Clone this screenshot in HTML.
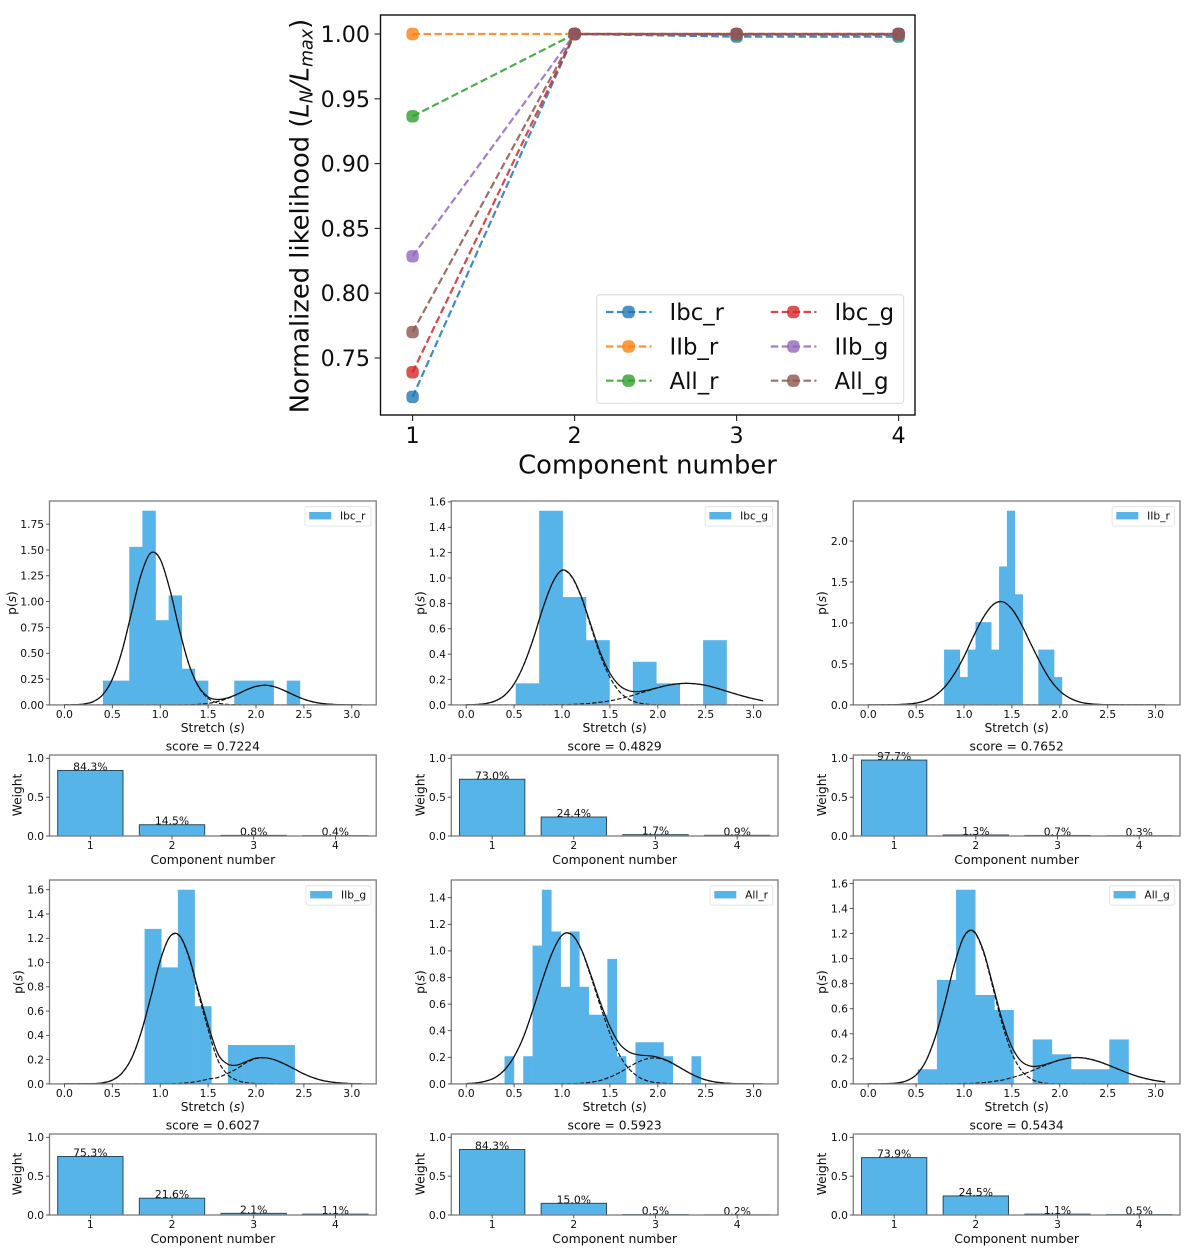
<!DOCTYPE html>
<html lang="en">
<head>
<meta charset="utf-8">
<title>Gaussian mixture fits of stretch distributions</title>
<style>
html,body{margin:0;padding:0;background:#fff}
svg{display:block;font-family:"DejaVu Sans","Liberation Sans",sans-serif;filter:blur(.35px)}
</style>
</head>
<body>
<svg id="figure" xmlns="http://www.w3.org/2000/svg" width="1200" height="1253" viewBox="0 0 1200 1253"></svg>
<script>
// ---------- Top chart data ----------
const componentNumbers = [1, 2, 3, 4];
const likelihoodTicks = [0.75, 0.80, 0.85, 0.90, 0.95, 1.00];
const likeIbcR = [0.720, 1, 0.998, 0.998];
const likeIIbR = [1, 1, 1, 1];
const likeAllR = [0.9365, 1, 0.9995, 0.9993];
const likeIbcG = [0.739, 1, 1, 1];
const likeIIbG = [0.8285, 1, 1, 1];
const likeAllG = [0.770, 1, 1, 1];

// ---------- Shared panel data ----------
const stretchGrid = [0,0.1,0.2,0.3,0.4,0.5,0.6,0.7,0.8,0.9,1.0,1.1,1.2,1.3,1.4,1.5,1.6,1.7,1.8,1.9,2.0,2.1,2.2,2.3,2.4,2.5,2.6,2.7,2.8,2.9,3.0,3.1];
const stretchTicks = [0, 0.5, 1.0, 1.5, 2.0, 2.5, 3.0];
const weightTicks = [0, 0.5, 1.0];

// ---------- Ibc_r ----------
const ibcRBinStart = 0.403;
const ibcRBinWidth = 0.137;
const ibcRHist = [0.235,0.235,1.53,1.88,0.82,1.06,0.35,0.235,0,0,0.235,0.235,0.235,0,0.235];
const ibcRComp1 = [0,0.002,0.008,0.031,0.098,0.248,0.517,0.89,1.26,1.47,1.41,1.12,0.73,0.39,0.174,0.064,0.019,0.005,0.001,0,0,0,0,0,0,0,0,0,0,0,0,0];
const ibcRComp2 = [0,0,0,0,0,0,0,0,0,0,0,0,0,0.002,0.006,0.014,0.033,0.062,0.101,0.146,0.179,0.19,0.174,0.137,0.094,0.055,0.028,0.012,0.005,0.002,0,0];
const ibcRWeights = [0.843, 0.145, 0.008, 0.004];
const ibcRTicks = [0, 0.25, 0.5, 0.75, 1.0, 1.25, 1.5, 1.75];

// ---------- Ibc_g ----------
const ibcGBinStart = 0.517;
const ibcGBinWidth = 0.2445;
const ibcGHist = [0.17,1.53,0.85,0.51,0,0.34,0.17,0,0.51];
const ibcGComp1 = [0.001,0.003,0.01,0.03,0.075,0.165,0.314,0.52,0.76,0.96,1.06,1.01,0.85,0.62,0.39,0.218,0.105,0.044,0.016,0.005,0.001,0,0,0,0,0,0,0,0,0,0,0];
const ibcGComp2 = [0,0,0,0,0,0,0,0,0.001,0.001,0.002,0.004,0.007,0.013,0.021,0.032,0.048,0.067,0.089,0.112,0.135,0.154,0.166,0.17,0.166,0.154,0.135,0.112,0.089,0.067,0.048,0.032];
const ibcGWeights = [0.730, 0.244, 0.017, 0.009];
const ibcGTicks = [0, 0.2, 0.4, 0.6, 0.8, 1.0, 1.2, 1.4, 1.6];

// ---------- IIb_r ----------
const iibRBinStart = 0.792;
const iibRBinWidth = 0.082;
const iibRHist = [0.675,0.675,0.34,0.675,1.01,1.01,0.675,1.69,2.37,1.35,0,0,0.675,0.675,0.34];
const iibRComp1 = [0,0,0.001,0.003,0.009,0.022,0.053,0.115,0.22,0.38,0.59,0.84,1.065,1.22,1.26,1.17,0.98,0.74,0.507,0.307,0.17,0.086,0.038,0.015,0.006,0.002,0.001,0,0,0,0,0];
const iibRComp2 = [0,0,0,0,0,0,0,0,0,0,0,0,0,0,0,0,0,0,0,0,0,0,0,0,0,0,0,0,0,0,0,0];
const iibRWeights = [0.977, 0.013, 0.007, 0.003];
const iibRTicks = [0, 0.5, 1.0, 1.5, 2.0];

// ---------- IIb_g ----------
const iibGBinStart = 0.837;
const iibGBinWidth = 0.174;
const iibGHist = [1.277,0.96,1.6,0.64,0,0.32,0.32,0.32,0.32];
const iibGComp1 = [0,0,0.001,0.002,0.009,0.031,0.088,0.209,0.422,0.71,1.015,1.21,1.22,1.04,0.74,0.448,0.2,0.08,0.03,0.01,0.003,0.001,0,0,0,0,0,0,0,0,0,0];
const iibGComp2 = [0,0,0,0,0,0,0,0,0,0,0,0.002,0.004,0.01,0.021,0.04,0.052,0.085,0.125,0.175,0.209,0.214,0.197,0.163,0.123,0.082,0.05,0.027,0.014,0.006,0.002,0.001];
const iibGWeights = [0.753, 0.216, 0.021, 0.011];
const iibGTicks = [0, 0.2, 0.4, 0.6, 0.8, 1.0, 1.2, 1.4, 1.6];

// ---------- All_r ----------
const allRBinStart = 0.4;
const allRBinWidth = 0.0976;
const allRHist = [0.208,0,0.208,1.04,1.46,1.146,0.73,1.146,0.73,0.52,0.52,0.94,0.208,0,0.313,0.313,0.313,0.208,0,0,0.208];
const allRComp1 = [0.002,0.007,0.02,0.047,0.105,0.205,0.357,0.565,0.79,0.99,1.117,1.122,1.01,0.81,0.586,0.38,0.217,0.113,0.052,0.021,0.008,0.003,0.001,0,0,0,0,0,0,0,0,0];
const allRComp2 = [0,0,0,0,0,0,0,0,0,0,0.001,0.002,0.005,0.012,0.026,0.051,0.085,0.127,0.166,0.191,0.193,0.172,0.135,0.094,0.057,0.03,0.014,0.006,0.002,0.001,0,0];
const allRWeights = [0.843, 0.150, 0.005, 0.002];
const allRTicks = [0, 0.2, 0.4, 0.6, 0.8, 1.0, 1.2, 1.4];

// ---------- All_g ----------
const allGBinStart = 0.517;
const allGBinWidth = 0.2;
const allGHist = [0.117,0.83,1.55,0.71,0.59,0,0.355,0.236,0.117,0.117,0.355];
const allGComp1 = [0,0,0.002,0.007,0.025,0.072,0.179,0.374,0.647,0.952,1.175,1.215,1.058,0.773,0.475,0.245,0.106,0.039,0.012,0.003,0.001,0,0,0,0,0,0,0,0,0,0,0];
const allGComp2 = [0,0,0,0,0,0,0,0,0,0.001,0.003,0.005,0.01,0.019,0.031,0.05,0.073,0.102,0.134,0.164,0.19,0.206,0.21,0.2,0.18,0.152,0.121,0.09,0.063,0.042,0.026,0.015];
const allGWeights = [0.739, 0.245, 0.011, 0.005];
const allGTicks = [0, 0.2, 0.4, 0.6, 0.8, 1.0, 1.2, 1.4, 1.6];

const svg = document.getElementById('figure');
const NS = 'http://www.w3.org/2000/svg';
const INK = '#0e0e0e';
const BLUE = '#56b4e9';

function mk(parent, tag, attrs, name, txt) {
  const el = document.createElementNS(NS, tag);
  for (const k in attrs) el.setAttribute(k, attrs[k]);
  
  
  if (txt !== undefined) el.textContent = txt;
  parent.appendChild(el);
  return el;
}
function label(parent, x, cy, s, size, anchor, name) {
  return mk(parent, 'text', {x: x, y: cy + size * 0.36, 'font-size': size, fill: INK, 'text-anchor': anchor}, name, s);
}
function smoothPath(pts) {
  let d = 'M' + pts[0][0].toFixed(2) + ' ' + pts[0][1].toFixed(2);
  for (let i = 0; i < pts.length - 1; i++) {
    const p0 = pts[Math.max(i - 1, 0)], p1 = pts[i], p2 = pts[i + 1], p3 = pts[Math.min(i + 2, pts.length - 1)];
    const c1x = p1[0] + (p2[0] - p0[0]) / 6, c1y = p1[1] + (p2[1] - p0[1]) / 6;
    const c2x = p2[0] - (p3[0] - p1[0]) / 6, c2y = p2[1] - (p3[1] - p1[1]) / 6;
    d += 'C' + c1x.toFixed(2) + ' ' + c1y.toFixed(2) + ' ' + c2x.toFixed(2) + ' ' + c2y.toFixed(2) + ' ' + p2[0].toFixed(2) + ' ' + p2[1].toFixed(2);
  }
  return d;
}

// ---------- Top likelihood chart ----------
const topSeries = [
  {key: 'Ibc_r', values: likeIbcR, color: '#1f77b4'},
  {key: 'IIb_r', values: likeIIbR, color: '#ff7f0e'},
  {key: 'All_r', values: likeAllR, color: '#2ca02c'},
  {key: 'Ibc_g', values: likeIbcG, color: '#d62728'},
  {key: 'IIb_g', values: likeIIbG, color: '#9467bd'},
  {key: 'All_g', values: likeAllG, color: '#8c564b'}
];
(function drawTop() {
  const g = mk(svg, 'g', {}, 'likelihood-chart');
  const L = 380.5, R = 915, T = 15, B = 415;
  const xs = v => 412.6 + (v - 1) * 162;
  const ys = v => 34 + (1 - v) * 1296;
  const series = mk(g, 'g', {}, 'likelihood-series');
  topSeries.forEach(s => {
    const sg = mk(series, 'g', {}, 'series-' + s.key);
    const d = s.values.map((v, i) => (i ? 'L' : 'M') + xs(componentNumbers[i]) + ' ' + ys(v)).join('');
    mk(sg, 'path', {d: d, fill: 'none', stroke: s.color, 'stroke-width': 2.2, 'stroke-dasharray': '7.5 3.4', opacity: 0.85}, 'line-' + s.key);
    s.values.forEach((v, i) => {
      mk(sg, 'rect', {x: xs(componentNumbers[i]) - 6.2, y: ys(v) - 6.2, width: 12.4, height: 12.4, rx: 4.6, fill: s.color, opacity: 0.8}, 'point-' + s.key);
    });
  });
  mk(g, 'rect', {x: L, y: T, width: R - L, height: B - T, fill: 'none', stroke: '#111', 'stroke-width': 1.4}, 'likelihood-axes-frame');
  const xa = mk(g, 'g', {}, 'x-axis');
  componentNumbers.forEach(v => {
    mk(xa, 'line', {x1: xs(v), x2: xs(v), y1: B, y2: B + 6, stroke: '#222', 'stroke-width': 1.1}, 'x-tick');
    label(xa, xs(v), 435, String(v), 22.2, 'middle', 'x-tick-label');
  });
  label(xa, 647.5, 464, 'Component number', 25.8, 'middle', 'x-axis-title');
  const ya = mk(g, 'g', {}, 'y-axis');
  likelihoodTicks.forEach(v => {
    mk(ya, 'line', {x1: L - 6, x2: L, y1: ys(v), y2: ys(v), stroke: '#222', 'stroke-width': 1.1}, 'y-tick');
    label(ya, 370, ys(v), v.toFixed(2), 22.2, 'end', 'y-tick-label');
  });
  const yt = mk(ya, 'text', {transform: 'translate(308.5 216) rotate(-90)', 'font-size': 25.8, fill: INK, 'text-anchor': 'middle'}, 'y-axis-title');
  const parts = [['Normalized likelihood (', 0, 25.8, 'normal'], ['L', 0, 25.8, 'italic'], ['N', 4, 17.5, 'italic'], ['/', -4, 25.8, 'italic'], ['L', 0, 25.8, 'italic'], ['max', 4, 17.5, 'italic'], [')', -4, 25.8, 'normal']];
  parts.forEach(p => {
    mk(yt, 'tspan', {dy: p[1], 'font-size': p[2], 'font-style': p[3]}, 'y-title-part', p[0]);
  });
  const lg = mk(g, 'g', {}, 'likelihood-legend');
  mk(lg, 'rect', {x: 596.7, y: 294.7, width: 307, height: 108.6, rx: 3, fill: '#fff', 'fill-opacity': 0.8, stroke: '#d8d8d8', 'stroke-width': 1}, 'legend-frame');
  const legendRows = [312, 346.5, 380.7];
  topSeries.forEach((s, i) => {
    const col = i < 3 ? 0 : 1;
    const cy = legendRows[i % 3];
    const x0 = col ? 770.8 : 606;
    const e = mk(lg, 'g', {}, 'legend-entry-' + s.key);
    mk(e, 'line', {x1: x0, x2: x0 + 45.6, y1: cy, y2: cy, stroke: s.color, 'stroke-width': 2.2, 'stroke-dasharray': '7.5 3.4', opacity: 0.85}, 'legend-line');
    mk(e, 'rect', {x: x0 + 16.4, y: cy - 6.2, width: 12.4, height: 12.4, rx: 4.6, fill: s.color, opacity: 0.8}, 'legend-marker');
    label(e, col ? 834.5 : 669.5, cy, s.key, 22.8, 'start', 'legend-label');
  });
})();

// ---------- Six histogram + weight panels ----------
const panels = [
  {key: 'Ibc_r', left: 49.5, row: 0, yMax: 1.974, ticks: ibcRTicks, dec: 2, start: ibcRBinStart, bw: ibcRBinWidth, hist: ibcRHist, c1: ibcRComp1, c2: ibcRComp2, w: ibcRWeights, score: '0.7224', lw: 66.3, pX: 11.7, wX: 17.3},
  {key: 'Ibc_g', left: 451.3, row: 0, yMax: 1.607, ticks: ibcGTicks, dec: 1, start: ibcGBinStart, bw: ibcGBinWidth, hist: ibcGHist, c1: ibcGComp1, c2: ibcGComp2, w: ibcGWeights, score: '0.4829', lw: 68, pX: 420, wX: 420},
  {key: 'IIb_r', left: 853.3, row: 0, yMax: 2.489, ticks: iibRTicks, dec: 1, start: iibRBinStart, bw: iibRBinWidth, hist: iibRHist, c1: iibRComp1, c2: iibRComp2, w: iibRWeights, score: '0.7652', lw: 63, pX: 821.7, wX: 821.7},
  {key: 'IIb_g', left: 49.5, row: 1, yMax: 1.68, ticks: iibGTicks, dec: 1, start: iibGBinStart, bw: iibGBinWidth, hist: iibGHist, c1: iibGComp1, c2: iibGComp2, w: iibGWeights, score: '0.6027', lw: 65.3, pX: 18, wX: 17.3},
  {key: 'All_r', left: 451.3, row: 1, yMax: 1.533, ticks: allRTicks, dec: 1, start: allRBinStart, bw: allRBinWidth, hist: allRHist, c1: allRComp1, c2: allRComp2, w: allRWeights, score: '0.5923', lw: 63, pX: 420, wX: 420},
  {key: 'All_g', left: 853.3, row: 1, yMax: 1.6275, ticks: allGTicks, dec: 1, start: allGBinStart, bw: allGBinWidth, hist: allGHist, c1: allGComp1, c2: allGComp2, w: allGWeights, score: '0.5434', lw: 65.7, pX: 821.7, wX: 821.7}
];
const SPINE = '#7c7c7c';
panels.forEach(p => {
  const off = p.row * 379;
  const L = p.left, W = 326.7, R = L + W;
  const T = 501 + off, B = 704.9 + off, WT = 755 + off, WB = 836 + off;
  const xs = v => L + 14.9 + v * 95.8;
  const ys = v => B - v / p.yMax * (B - T);
  const g = mk(svg, 'g', {}, 'panel-' + p.key);

  // histogram
  const hg = mk(g, 'g', {}, 'histogram');
  p.hist.forEach((h, i) => {
    if (h <= 0) return;
    mk(hg, 'rect', {x: xs(p.start + i * p.bw), y: ys(h), width: p.bw * 95.8 + 0.3, height: B - ys(h), fill: BLUE}, 'hist-bar');
  });
  // fitted curves
  const cg = mk(g, 'g', {}, 'mixture-curves');
  const compA = stretchGrid.map((s, i) => [xs(s), ys(p.c1[i])]);
  const compB = stretchGrid.map((s, i) => [xs(s), ys(p.c2[i])]);
  const total = stretchGrid.map((s, i) => [xs(s), ys(p.c1[i] + p.c2[i])]);
  mk(cg, 'path', {d: smoothPath(compA), fill: 'none', stroke: '#111', 'stroke-width': 1.15, 'stroke-dasharray': '4.4 1.9'}, 'component-1-curve');
  mk(cg, 'path', {d: smoothPath(compB), fill: 'none', stroke: '#111', 'stroke-width': 1.15, 'stroke-dasharray': '4.4 1.9'}, 'component-2-curve');
  mk(cg, 'path', {d: smoothPath(total), fill: 'none', stroke: '#111', 'stroke-width': 1.25}, 'total-curve');
  mk(g, 'rect', {x: L, y: T, width: W, height: B - T, fill: 'none', stroke: SPINE, 'stroke-width': 1.3}, 'hist-axes-frame');

  // hist axes
  const xa = mk(g, 'g', {}, 'stretch-axis');
  stretchTicks.forEach(v => {
    mk(xa, 'line', {x1: xs(v), x2: xs(v), y1: B, y2: B + 3.5, stroke: '#333', 'stroke-width': 0.8}, 'x-tick');
    label(xa, xs(v), 714 + off, v.toFixed(1), 10.7, 'middle', 'x-tick-label');
  });
  const st = label(xa, L + W / 2, 727.7 + off, 'Stretch (', 12.3, 'middle', 'x-axis-title');
  mk(st, 'tspan', {'font-style': 'italic'}, 'x-title-symbol', 's');
  mk(st, 'tspan', {}, 'x-title-end', ')');
  const ya = mk(g, 'g', {}, 'density-axis');
  p.ticks.forEach(v => {
    mk(ya, 'line', {x1: L - 3.5, x2: L, y1: ys(v), y2: ys(v), stroke: '#333', 'stroke-width': 0.8}, 'y-tick');
    label(ya, L - 5.4, ys(v), v.toFixed(p.dec), 10.7, 'end', 'y-tick-label');
  });
  const pl = mk(ya, 'text', {transform: 'translate(' + (p.pX + 4.4) + ' ' + (603 + off) + ') rotate(-90)', 'font-size': 12.2, fill: INK, 'text-anchor': 'middle'}, 'y-axis-title', 'p(');
  mk(pl, 'tspan', {'font-style': 'italic'}, 'y-title-symbol', 's');
  mk(pl, 'tspan', {}, 'y-title-end', ')');

  // legend
  const lg = mk(g, 'g', {}, 'hist-legend');
  const lx = R - 5.3 - p.lw;
  mk(lg, 'rect', {x: lx + 0.4, y: 506.7 + off, width: p.lw - 0.4, height: 19.4, rx: 2, fill: '#fff', 'fill-opacity': 0.8, stroke: '#dedede', 'stroke-width': 0.8}, 'legend-frame');
  mk(lg, 'rect', {x: lx + 4.6, y: 512 + off, width: 22, height: 7.4, fill: BLUE}, 'legend-swatch');
  label(lg, lx + 35.4, 515.8 + off, p.key, 10.7, 'start', 'legend-label');

  // title
  label(g, L + W / 2, 746.3 + off, 'score = ' + p.score, 12.3, 'middle', 'score-title');

  // weights
  const wx = v => L + (v - 0.5) * W / 4;
  const wy = v => WB - v * 77.7;
  const wg = mk(g, 'g', {}, 'weight-chart');
  p.w.forEach((v, i) => {
    const n = componentNumbers[i];
    mk(wg, 'rect', {x: wx(n - 0.4), y: wy(v), width: 0.8 * W / 4, height: WB - wy(v), fill: BLUE, stroke: '#2c4c60', 'stroke-width': 1}, 'weight-bar');
    label(wg, wx(n), wy(v) - 3.9, (v * 100).toFixed(1) + '%', 10.8, 'middle', 'weight-value-label');
  });
  mk(wg, 'rect', {x: L, y: WT, width: W, height: WB - WT, fill: 'none', stroke: SPINE, 'stroke-width': 1.3}, 'weight-axes-frame');
  componentNumbers.forEach(n => {
    mk(wg, 'line', {x1: wx(n), x2: wx(n), y1: WB, y2: WB + 3.5, stroke: '#333', 'stroke-width': 0.8}, 'x-tick');
    label(wg, wx(n), 845 + off, String(n), 10.7, 'middle', 'x-tick-label');
  });
  label(wg, L + W / 2, 859.3 + off, 'Component number', 12.45, 'middle', 'x-axis-title');
  weightTicks.forEach(v => {
    mk(wg, 'line', {x1: L - 3.5, x2: L, y1: wy(v), y2: wy(v), stroke: '#333', 'stroke-width': 0.8}, 'y-tick');
    label(wg, L - 5.4, wy(v), v.toFixed(1), 10.7, 'end', 'y-tick-label');
  });
  mk(wg, 'text', {transform: 'translate(' + (p.wX + 4.4) + ' ' + (795 + off) + ') rotate(-90)', 'font-size': 12.2, fill: INK, 'text-anchor': 'middle'}, 'y-axis-title', 'Weight');
});
</script>
</body>
</html>
